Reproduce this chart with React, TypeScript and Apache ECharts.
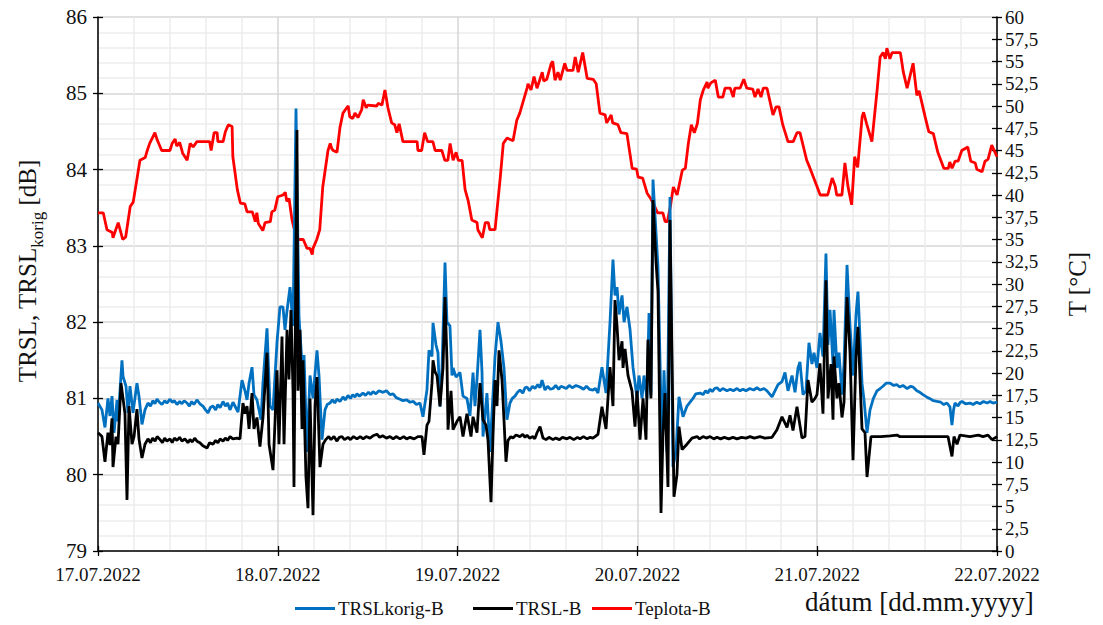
import React, { useEffect, useRef } from "react";
import * as echarts from "echarts";

// x values are hours since 17.07.2022 00:00
const dayLabels = ["17.07.2022", "18.07.2022", "19.07.2022", "20.07.2022", "21.07.2022", "22.07.2022"];
const seriesNames = ["TRSLkorig-B", "TRSL-B", "Teplota-B"];

const trslKorig: [number, number][] = [
  [0, 80.94], [0.53, 80.85], [0.93, 80.62], [1.33, 81.0], [1.6, 80.77], [1.87, 81.03], [2.14, 80.55], [2.54, 80.98],
  [2.67, 80.7], [3.2, 81.5], [3.34, 81.29], [3.74, 81.16], [4.0, 80.81], [4.27, 81.16], [4.67, 80.81], [5.2, 81.2],
  [5.47, 81.03], [5.87, 80.66], [6.27, 80.85],
  [6.67, 80.94], [7.0, 80.9], [7.34, 80.97], [7.6, 80.93], [7.88, 80.99], [8.2, 80.95], [8.54, 80.92], [8.9, 80.97],
  [9.2, 80.94], [9.61, 80.99], [9.9, 80.95], [10.2, 80.97], [10.54, 80.92], [10.9, 80.96], [11.2, 80.93], [11.5, 80.97],
  [11.88, 80.94], [12.2, 80.9], [12.5, 80.96], [12.8, 80.92], [13.21, 80.98], [13.6, 80.93], [14.0, 80.9], [14.28, 80.86],
  [14.68, 80.81], [15.0, 80.88], [15.35, 80.9], [15.7, 80.85], [16.0, 80.92], [16.3, 80.88], [16.69, 80.96], [17.0, 80.9],
  [17.3, 80.94], [17.62, 80.85], [18.02, 80.95],
  [18.69, 80.82], [19.22, 81.24], [19.62, 81.1], [19.89, 80.98], [20.16, 81.2],
  [20.56, 81.41], [20.82, 81.05], [21.22, 80.98], [21.76, 80.72], [22.02, 81.2], [22.56, 81.92], [22.96, 80.9],
  [23.36, 80.85], [23.89, 81.73], [24.29, 82.2], [24.69, 82.2], [24.96, 81.9], [25.23, 82.15], [25.63, 82.46],
  [26.03, 81.95], [26.43, 84.8], [26.83, 82.07], [27.23, 81.45], [27.5, 81.57], [27.9, 80.3], [28.3, 81.3], [28.7, 81.0],
  [29.23, 81.63], [29.5, 81.3], [29.9, 80.46],
  [30.3, 80.85], [30.6, 80.92], [30.97, 80.94], [31.3, 80.98], [31.6, 80.94], [31.9, 80.99], [32.3, 80.96], [32.7, 81.02],
  [33.0, 80.98], [33.37, 81.04], [33.7, 81.0], [34.0, 81.05], [34.3, 81.02], [34.57, 81.06], [34.9, 81.03], [35.37, 81.07],
  [35.7, 81.04], [36.1, 81.08], [36.4, 81.05], [36.71, 81.09], [37.1, 81.06], [37.5, 81.1], [38.04, 81.08], [38.5, 81.1],
  [38.98, 81.05], [39.4, 81.06], [39.8, 81.01], [40.31, 80.99], [40.7, 80.97], [41.2, 80.98], [41.65, 80.95], [42.1, 80.96],
  [42.5, 80.92], [42.98, 80.94],
  [43.38, 80.76], [43.91, 81.11], [44.18, 81.63], [44.58, 81.55], [44.72, 81.99], [45.12, 81.7],
  [45.38, 81.6], [45.65, 80.89], [45.92, 81.4], [46.32, 82.78], [46.58, 82.0], [46.98, 81.95], [47.25, 81.3],
  [47.39, 81.4], [47.79, 81.28], [48.32, 81.34], [48.72, 81.03], [49.25, 81.0], [49.65, 80.77], [50.06, 81.34],
  [50.32, 80.9], [50.59, 81.25], [50.99, 81.9], [51.26, 81.34], [51.39, 80.5], [51.92, 81.07], [52.32, 80.3],
  [52.99, 81.54], [53.39, 82.0], [53.79, 81.75], [54.19, 81.4], [54.59, 80.72],
  [54.99, 80.94], [55.3, 81.0], [55.66, 81.03], [56.0, 81.08], [56.33, 81.11], [56.7, 81.07], [57.0, 81.14], [57.26, 81.15],
  [57.6, 81.1], [58.0, 81.16], [58.33, 81.13], [58.7, 81.18], [59.0, 81.14], [59.27, 81.24], [59.67, 81.11], [60.0, 81.16],
  [60.4, 81.12], [60.73, 81.13], [61.1, 81.17], [61.5, 81.12], [61.8, 81.16], [62.07, 81.15], [62.5, 81.13], [62.9, 81.17],
  [63.3, 81.14], [63.8, 81.17], [64.34, 81.15], [64.8, 81.12], [65.2, 81.16], [65.6, 81.12], [66.07, 81.11], [66.4, 81.13],
  [66.74, 81.07], [67.27, 81.41], [67.81, 81.07], [68.34, 81.99], [68.74, 82.82],
  [69.01, 82.35], [69.28, 82.46], [69.55, 82.1], [69.95, 82.35], [70.22, 82.0], [70.61, 82.2], [71.02, 81.9],
  [71.41, 81.41], [71.95, 81.0], [72.21, 81.3], [72.62, 81.0], [72.88, 81.3], [73.28, 81.0], [73.55, 82.12],
  [73.81, 81.05], [74.08, 83.87], [74.35, 83.4], [74.75, 82.72], [75.28, 80.3], [75.55, 81.37], [75.95, 80.3],
  [76.35, 83.64], [76.75, 80.1], [77.15, 80.3], [77.55, 81.02], [78.09, 80.76], [78.62, 80.9],
  [79.42, 81.0], [79.8, 81.06], [80.36, 81.07], [80.76, 81.05], [81.1, 81.1], [81.4, 81.07], [81.69, 81.12], [82.0, 81.09],
  [82.3, 81.13], [82.63, 81.14], [83.0, 81.1], [83.4, 81.13], [83.96, 81.1], [84.4, 81.12], [84.8, 81.1], [85.3, 81.13],
  [85.7, 81.1], [86.09, 81.12], [86.5, 81.1], [87.0, 81.13], [87.5, 81.11], [87.96, 81.14], [88.4, 81.11], [88.9, 81.13],
  [89.3, 81.1], [89.97, 81.02],
  [90.77, 81.18], [91.3, 81.22], [91.7, 81.34], [92.1, 81.1], [92.64, 81.3],
  [93.04, 81.08], [93.44, 81.4], [93.7, 81.48], [94.1, 81.05], [94.5, 81.1], [94.9, 81.73], [95.3, 81.45],
  [95.57, 81.6], [95.97, 81.4], [96.37, 81.86], [96.77, 81.55], [97.17, 82.9], [97.44, 81.7], [97.71, 82.16],
  [98.11, 81.45], [98.24, 82.16], [98.64, 81.4], [98.91, 81.6], [99.31, 81.05], [99.58, 81.45], [99.98, 82.75],
  [100.38, 81.95], [100.78, 81.3], [101.18, 82.1], [101.44, 82.4], [101.98, 81.2], [102.25, 80.98], [102.65, 80.55],
  [103.05, 80.85], [103.5, 81.0], [103.98, 81.1], [104.4, 81.13], [104.78, 81.16], [105.2, 81.2], [105.72, 81.2],
  [106.2, 81.17], [106.65, 81.18], [107.0, 81.15], [107.45, 81.17], [108.0, 81.13], [108.5, 81.16], [108.79, 81.15],
  [109.3, 81.1], [109.7, 81.08], [110.12, 81.05], [110.6, 81.02], [111.0, 81.0], [111.5, 80.97], [111.99, 80.96],
  [112.5, 80.95], [112.9, 80.92], [113.32, 80.94], [113.72, 80.89], [113.99, 80.65], [114.2, 80.85], [114.39, 80.94],
  [114.79, 80.9], [115.1, 80.95], [115.33, 80.96], [115.8, 80.93], [116.39, 80.94], [116.8, 80.92], [117.3, 80.95],
  [117.73, 80.93], [118.2, 80.96], [118.67, 80.94], [119.07, 80.96], [119.47, 80.94], [120, 80.95],
];

const trsl: [number, number][] = [
  [0, 80.55], [0.53, 80.5], [0.93, 80.17], [1.33, 80.55], [1.6, 80.39], [1.87, 80.74], [2.0, 80.1], [2.4, 80.5],
  [2.67, 80.4], [3.07, 81.2], [3.34, 81.0], [3.6, 80.8], [3.87, 79.67], [4.14, 80.9], [4.54, 80.4], [4.81, 80.5],
  [5.2, 80.86], [5.47, 80.47], [5.87, 80.22], [6.27, 80.4],
  [6.67, 80.47], [7.0, 80.42], [7.3, 80.48], [7.61, 80.44], [7.9, 80.5], [8.28, 80.46], [8.6, 80.42], [8.9, 80.48],
  [9.2, 80.44], [9.61, 80.47], [9.9, 80.42], [10.2, 80.48], [10.54, 80.45], [10.9, 80.49], [11.2, 80.44], [11.6, 80.47],
  [12.0, 80.42], [12.28, 80.46], [12.6, 80.43], [12.9, 80.48], [13.21, 80.44], [13.6, 80.42], [14.0, 80.38], [14.55, 80.35],
  [14.9, 80.42], [15.35, 80.4], [15.7, 80.45], [16.0, 80.42], [16.3, 80.47], [16.69, 80.44], [17.0, 80.48], [17.3, 80.45],
  [17.62, 80.5], [18.0, 80.47], [18.55, 80.48],
  [18.95, 80.47], [19.35, 80.94], [19.62, 80.8], [19.89, 80.9], [20.16, 80.6], [20.56, 81.07],
  [20.82, 80.6], [21.22, 80.75], [21.62, 80.37], [22.02, 80.75], [22.56, 81.6], [22.83, 80.4], [23.36, 80.06],
  [23.63, 80.7], [23.89, 81.37], [24.16, 80.4], [24.56, 81.81], [24.83, 80.4], [25.23, 81.9], [25.49, 81.25],
  [25.76, 82.16], [26.03, 81.1], [26.16, 79.84], [26.56, 84.52], [26.7, 81.1], [26.96, 81.9], [27.23, 80.6],
  [27.36, 81.5], [27.76, 79.97], [28.03, 79.56], [28.3, 81.0], [28.7, 79.47], [28.97, 80.9], [29.23, 81.28],
  [29.63, 80.1],
  [30.03, 80.4], [30.4, 80.46], [30.8, 80.5], [31.1, 80.46], [31.5, 80.5], [31.9, 80.44], [32.2, 80.49], [32.57, 80.5],
  [32.9, 80.46], [33.37, 80.49], [33.7, 80.46], [34.1, 80.5], [34.57, 80.47], [35.0, 80.5], [35.4, 80.47], [35.8, 80.5],
  [36.3, 80.48], [36.71, 80.51], [37.24, 80.53], [37.6, 80.49], [38.0, 80.51], [38.5, 80.48], [38.98, 80.5], [39.4, 80.47],
  [39.8, 80.5], [40.31, 80.47], [40.8, 80.5], [41.2, 80.47], [41.65, 80.49], [42.2, 80.47], [42.7, 80.5], [43.25, 80.5],
  [43.51, 80.26], [43.91, 80.65], [44.18, 80.7], [44.58, 81.2], [44.72, 81.5], [44.98, 81.35], [45.25, 81.3],
  [45.65, 80.9], [46.05, 81.4], [46.32, 82.33], [46.58, 81.5], [46.72, 80.59], [47.12, 81.1], [47.39, 80.59],
  [47.92, 80.7], [48.32, 80.76], [48.72, 80.5], [49.25, 80.8], [49.79, 80.5], [50.06, 80.76], [50.59, 80.55],
  [50.99, 81.2], [51.39, 80.72], [51.79, 80.65], [52.06, 80.45], [52.46, 79.64], [52.72, 80.5], [52.99, 81.24],
  [53.26, 80.9], [53.53, 81.63], [53.93, 81.24], [54.19, 80.72], [54.46, 80.17],
  [54.73, 80.45], [55.1, 80.5], [55.39, 80.48], [55.8, 80.52], [56.33, 80.5], [56.7, 80.53], [57.0, 80.49], [57.26, 80.52],
  [57.6, 80.48], [58.06, 80.5], [58.3, 80.47], [58.6, 80.55], [59.0, 80.63], [59.4, 80.48], [59.8, 80.46], [60.2, 80.49],
  [60.73, 80.46], [61.1, 80.48], [61.6, 80.46], [62.0, 80.49], [62.6, 80.47], [63.0, 80.49], [63.5, 80.46], [64.0, 80.49],
  [64.34, 80.47], [64.8, 80.5], [65.3, 80.47], [65.7, 80.49], [66.07, 80.48], [66.74, 80.53],
  [67.27, 80.89], [67.81, 80.6], [68.34, 81.41],
  [68.74, 80.9], [69.01, 82.29], [69.28, 81.95], [69.55, 81.5], [69.95, 81.75], [70.08, 81.4], [70.35, 81.65],
  [70.75, 81.3], [71.28, 81.1], [71.68, 80.63], [71.95, 81.1], [72.35, 80.46], [72.75, 81.0], [73.15, 80.46],
  [73.41, 81.77], [73.81, 81.0], [74.08, 83.6], [74.48, 82.8], [74.75, 82.4], [75.15, 79.5], [75.42, 80.55],
  [75.68, 81.07], [76.08, 79.84], [76.35, 83.34], [76.62, 81.5], [76.88, 79.71], [77.28, 80.0], [77.55, 80.63],
  [77.96, 80.33], [78.62, 80.4],
  [79.29, 80.48], [79.96, 80.5], [80.3, 80.47], [80.76, 80.5], [81.2, 80.48], [81.7, 80.5], [82.2, 80.47], [82.63, 80.49],
  [83.1, 80.47], [83.6, 80.49], [84.2, 80.47], [84.76, 80.49], [85.3, 80.47], [85.9, 80.49], [86.5, 80.48], [87.03, 80.5],
  [87.6, 80.48], [88.36, 80.5], [89.0, 80.48], [89.97, 80.49],
  [90.63, 80.59], [91.3, 80.76], [91.97, 80.62], [92.37, 80.78],
  [92.77, 80.58], [93.3, 80.89], [93.97, 80.48], [94.37, 80.5], [94.77, 81.24], [95.3, 80.95], [95.71, 81.0],
  [95.97, 81.05], [96.37, 81.46], [96.77, 80.8], [97.17, 82.55], [97.44, 81.0], [97.84, 81.45], [98.11, 80.72],
  [98.24, 81.55], [98.64, 81.0], [98.91, 81.2], [99.31, 80.75], [99.58, 80.95], [99.98, 82.33], [100.38, 81.6],
  [100.78, 80.19], [101.18, 81.55], [101.44, 81.94], [101.98, 80.6], [102.38, 80.55], [102.65, 79.97],
  [103.18, 80.5], [104.5, 80.5], [105.72, 80.51], [106.65, 80.52], [107.0, 80.5], [108.79, 80.5], [110.12, 80.5],
  [111.99, 80.5], [113.46, 80.5], [113.99, 80.24], [114.26, 80.5], [114.66, 80.4], [115.06, 80.52], [116.39, 80.5],
  [117.5, 80.52], [118.13, 80.5], [118.8, 80.52], [119.33, 80.46], [120, 80.5],
];

const teplota: [number, number][] = [
  [0, 38.0], [0.7, 38.0], [1.2, 36.1], [1.9, 35.8], [2.0, 35.2], [2.7, 36.9], [3.3, 35.0], [3.7, 35.3], [4.3, 38.7],
  [4.7, 39.2], [5.6, 43.9], [6.3, 44.2], [6.5, 44.8], [6.9, 45.8], [7.6, 47.0], [7.9, 46.2], [8.5, 45.0], [9.6, 45.0],
  [9.9, 45.8], [10.3, 46.3], [10.5, 45.5], [10.9, 45.9], [11.3, 44.7], [11.9, 43.9], [12.3, 45.8], [12.7, 45.4],
  [13.2, 46.0], [14.9, 46.0], [15.1, 45.0], [15.5, 47.0], [15.9, 47.0], [16.0, 46.0], [16.7, 46.0], [17.0, 47.1],
  [17.2, 47.5], [17.4, 47.9], [17.9, 47.7], [18.0, 44.3], [18.6, 40.6], [19.0, 39.1], [19.6, 39.0], [19.9, 38.1],
  [20.6, 38.1], [21.0, 37.0], [21.2, 38.0], [21.4, 36.8], [22.0, 36.0], [22.3, 36.9], [23.0, 37.0], [23.2, 38.1],
  [23.6, 38.3], [24.0, 39.8], [24.7, 40.0], [25.0, 40.3], [25.2, 39.3], [25.5, 39.6], [25.9, 37.2], [26.3, 35.8],
  [26.7, 35.0], [27.4, 35.0], [27.9, 34.0], [28.3, 34.0], [28.6, 33.3], [28.7, 34.0], [29.2, 35.0], [29.6, 36.1],
  [30.0, 40.9], [30.7, 45.0], [31.0, 45.8], [31.2, 45.2], [31.4, 45.0], [31.9, 44.8], [32.3, 47.6], [32.7, 49.2],
  [33.2, 49.8], [33.4, 50.0], [33.6, 48.8], [34.0, 48.6], [34.3, 49.2], [34.7, 48.7], [35.2, 49.6], [35.4, 50.7],
  [35.8, 49.8], [36.0, 50.1], [37.2, 50.0], [37.4, 50.3], [37.9, 50.1], [38.3, 51.8], [38.7, 49.8], [39.2, 48.1],
  [39.6, 47.9], [39.9, 47.0], [40.2, 48.0], [40.7, 46.0], [42.6, 46.0], [42.7, 45.0], [43.2, 45.0], [43.6, 47.0],
  [44.0, 46.0], [44.7, 46.0], [45.0, 45.0], [45.9, 45.0], [46.3, 43.9], [46.7, 43.9], [47.0, 45.8], [47.4, 43.9],
  [47.8, 44.8], [48.1, 43.9], [48.6, 43.9], [49.0, 40.6], [49.4, 39.4], [49.9, 37.2], [50.6, 36.9], [50.7, 36.1],
  [51.3, 35.2], [51.7, 36.9], [52.1, 36.9], [52.3, 36.1], [53.0, 36.1], [53.7, 42.0], [54.1, 45.8], [54.6, 46.4],
  [55.4, 46.1], [55.9, 48.4], [56.3, 49.2], [57.3, 52.1], [57.4, 52.5], [57.8, 51.8], [58.2, 53.3], [58.6, 52.0],
  [59.3, 53.8], [59.5, 52.8], [59.9, 53.0], [60.5, 54.8], [60.7, 55.0], [61.0, 52.9], [61.4, 53.8], [61.7, 52.9],
  [62.3, 54.8], [62.6, 54.0], [63.4, 54.0], [63.7, 55.5], [64.1, 53.8], [64.7, 56.0], [65.3, 53.1], [66.1, 53.0],
  [66.5, 52.5], [67.0, 49.2], [67.7, 49.0], [67.9, 48.1], [68.5, 49.0], [68.7, 48.1], [69.4, 47.9], [69.8, 47.0],
  [70.6, 46.9], [71.3, 43.0], [71.9, 42.9], [72.1, 42.0], [72.7, 41.9], [73.3, 40.2], [73.7, 39.7], [74.1, 39.1],
  [74.7, 38.0], [75.4, 38.0], [75.7, 37.0], [76.0, 37.0], [76.4, 38.7], [76.8, 40.9], [77.3, 40.0], [78.0, 42.8],
  [78.4, 43.0], [78.8, 45.8], [79.2, 47.9], [79.6, 47.0], [80.0, 48.0], [80.4, 50.7], [80.8, 51.8], [81.3, 52.7],
  [81.4, 52.0], [81.8, 52.6], [82.4, 52.9], [82.8, 51.0], [83.4, 51.0], [83.7, 52.0], [84.4, 52.0], [84.8, 51.0],
  [85.0, 52.0], [85.7, 52.0], [86.2, 53.0], [86.6, 52.0], [87.4, 51.9], [87.7, 51.0], [88.1, 51.9], [88.5, 51.0],
  [88.8, 52.0], [89.3, 52.0], [90.1, 49.0], [90.5, 49.9], [90.9, 49.9], [91.4, 47.9], [92.1, 46.0], [92.8, 46.0],
  [93.3, 47.0], [93.7, 47.0], [94.6, 43.9], [95.0, 43.1], [96.0, 40.9], [96.4, 40.0], [97.4, 40.0], [98.0, 41.9],
  [98.4, 41.0], [98.6, 40.0], [99.3, 40.0], [99.7, 43.6], [100.1, 41.0], [100.6, 38.9], [101.0, 44.3], [101.4, 43.1],
  [102.0, 48.8], [102.2, 49.3], [102.6, 48.0], [103.3, 46.0], [104.0, 51.8], [104.4, 55.5], [104.8, 56.0],
  [105.1, 55.3], [105.3, 56.5], [105.7, 55.3], [106.0, 56.0], [107.1, 56.0], [107.5, 53.8], [108.0, 52.0],
  [108.8, 54.8], [109.3, 51.2], [109.6, 51.7], [110.4, 48.8], [110.9, 47.1], [111.5, 46.9], [112.1, 44.8],
  [112.9, 43.0], [113.5, 43.0], [113.7, 43.7], [114.0, 43.0], [114.4, 43.8], [114.8, 43.8], [115.3, 45.0],
  [116.1, 45.4], [116.5, 43.8], [117.1, 43.6], [117.3, 42.9], [118.0, 42.6], [118.4, 43.8], [118.8, 44.0],
  [119.3, 45.6], [120, 44.3],
];

const FONT = "'Liberation Serif', 'Times New Roman', serif";
const TXT = "#111111";

const serif = (size: number) => ({ fontFamily: FONT, fontSize: size, color: TXT });

export default function App() {
  const ref = useRef<HTMLDivElement>(null);
  useEffect(() => {
    if (!ref.current) return;
    const chart = echarts.init(ref.current, undefined, { renderer: "svg" });
    const tick = { lineStyle: { color: "#000", width: 1.3 } };
    const legendBase = {
      top: 594,
      itemWidth: 40,
      itemHeight: 3,
      icon: "rect",
      itemGap: 4,
      formatter: (name: string) => `{t|${name}}`,
      textStyle: { ...serif(19), padding: [0, 0, 0, -2], rich: { t: serif(19) } },
    };
    chart.setOption({
      animation: false,
      backgroundColor: "#fff",
      textStyle: { fontFamily: FONT },
      grid: { left: 98, right: 106, top: 17, bottom: 74, containLabel: false },
      legend: [
        { ...legendBase, left: 290, data: [seriesNames[0]] },
        { ...legendBase, left: 468, data: [seriesNames[1]] },
        { ...legendBase, left: 587, data: [seriesNames[2]] },
      ],
      graphic: [
        {
          type: "text",
          left: 805,
          top: 588,
          style: { text: "dátum [dd.mm.yyyy]", font: `27px ${FONT}`, fill: TXT },
        },
      ],
      xAxis: [
        {
          type: "value",
          min: 0,
          max: 120,
          interval: 24,
          position: "bottom",
          axisLine: { show: true, onZero: false, lineStyle: { color: "#000", width: 1.5 } },
          axisTick: { show: true, length: 5, ...tick },
          axisLabel: {
            margin: 14,
            ...serif(19),
            formatter: (v: number) => `{t|${dayLabels[Math.round(v / 24)]}}`,
            rich: { t: serif(19) },
          },
          splitLine: { show: true, lineStyle: { color: "#d6d6d6", width: 1.5 } },
          minorTick: { show: false, splitNumber: 5 },
          minorSplitLine: { show: true, lineStyle: { color: "#ececec", width: 1.5 } },
        },
        {
          type: "value",
          min: 0,
          max: 120,
          interval: 24,
          position: "bottom",
          axisLine: { show: false, onZero: false },
          axisTick: { show: true, inside: true, length: 5, ...tick },
          axisLabel: { show: false },
          splitLine: { show: false },
        },
      ],
      yAxis: [
        {
          type: "value",
          min: 79,
          max: 86,
          interval: 1,
          position: "left",
          name: "{a|TRSL, TRSL}{b|korig}{a| [dB]}",
          nameLocation: "middle",
          nameRotate: 90,
          nameGap: 52,
          nameTextStyle: {
            fontFamily: FONT,
            color: TXT,
            padding: [0, 0, 0, 26],
            rich: {
              a: { ...serif(25), verticalAlign: "bottom", padding: [0, 0, 6, 0] },
              b: { ...serif(17), verticalAlign: "bottom" },
            },
          },
          axisLine: { show: true, onZero: false, lineStyle: { color: "#000", width: 1.5 } },
          axisTick: { show: true, length: 5, ...tick },
          axisLabel: {
            margin: 11,
            ...serif(21),
            formatter: (v: number) => `{t|${v}}`,
            rich: { t: serif(21) },
          },
          splitLine: { show: true, lineStyle: { color: "#d6d6d6", width: 1.5 } },
          minorTick: { show: false, splitNumber: 5 },
          minorSplitLine: { show: true, lineStyle: { color: "#ececec", width: 1.5 } },
        },
        {
          type: "value",
          min: 0,
          max: 60,
          interval: 2.5,
          position: "right",
          name: "T [°C]",
          nameLocation: "middle",
          nameRotate: 90,
          nameGap: 68,
          nameTextStyle: serif(25),
          axisLine: { show: true, onZero: false, lineStyle: { color: "#000", width: 1.5 } },
          axisTick: { show: true, length: 5, ...tick },
          axisLabel: {
            margin: 8,
            ...serif(19),
            formatter: (v: number) => `{t|${String(v).replace(".", ",")}}`,
            rich: { t: serif(19) },
          },
          splitLine: { show: false },
        },
        {
          type: "value",
          min: 79,
          max: 86,
          interval: 1,
          position: "left",
          axisLine: { show: false, onZero: false },
          axisTick: { show: true, inside: true, length: 5, ...tick },
          axisLabel: { show: false },
          splitLine: { show: false },
        },
        {
          type: "value",
          min: 0,
          max: 60,
          interval: 2.5,
          position: "right",
          axisLine: { show: false, onZero: false },
          axisTick: { show: true, inside: true, length: 5, ...tick },
          axisLabel: { show: false },
          splitLine: { show: false },
        },
      ],
      series: [
        {
          name: seriesNames[2],
          type: "line",
          yAxisIndex: 1,
          data: teplota,
          showSymbol: false,
          lineStyle: { color: "#ff0000", width: 2.8 },
          itemStyle: { color: "#ff0000" },
          z: 2,
        },
        {
          name: seriesNames[0],
          type: "line",
          yAxisIndex: 0,
          data: trslKorig,
          showSymbol: false,
          lineStyle: { color: "#0070c0", width: 2.8 },
          itemStyle: { color: "#0070c0" },
          z: 3,
        },
        {
          name: seriesNames[1],
          type: "line",
          yAxisIndex: 0,
          data: trsl,
          showSymbol: false,
          lineStyle: { color: "#000000", width: 2.8 },
          itemStyle: { color: "#000000" },
          z: 4,
        },
      ],
    });
    return () => chart.dispose();
  }, []);
  return (
    <div
      ref={ref}
      style={{ position: "fixed", left: 0, top: 0, width: 1103, height: 625, background: "#fff" }}
    />
  );
}
